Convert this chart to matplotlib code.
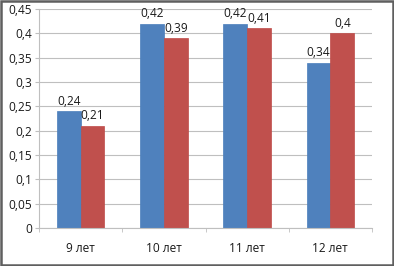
import numpy as np
import matplotlib.pyplot as plt

categories = ["9 лет", "10 лет", "11 лет", "12 лет"]
series_a = [0.24, 0.42, 0.42, 0.34]
series_b = [0.21, 0.39, 0.41, 0.40]
y_ticks = [0, 0.05, 0.1, 0.15, 0.2, 0.25, 0.3, 0.35, 0.4, 0.45]

def fmt(v):
    return ("%g" % v).replace(".", ",")

plt.rcParams["font.family"] = ["Open Sans", "DejaVu Sans"]
FS = 8.6

fig = plt.figure(figsize=(3.94, 2.66), dpi=100)
W, H = 394, 266
ax = fig.add_axes([39 / W, 1 - 228 / H, (372 - 39) / W, (228 - 9) / H])

x = np.arange(len(categories))
w = 1 / 3.5
b1 = ax.bar(x - w / 2, series_a, w, color="#4F81BD", edgecolor="#4A7EBB", linewidth=0.5)
b2 = ax.bar(x + w / 2, series_b, w, color="#C0504D", edgecolor="#BE4B48", linewidth=0.5)

for bars, vals in ((b1, series_a), (b2, series_b)):
    for r, v in zip(bars, vals):
        ax.text(r.get_x() + r.get_width() / 2, v + 0.007, fmt(v),
                ha="center", va="bottom", fontsize=FS, color="#1A1A1A")

ax.set_xlim(-0.5, len(categories) - 0.5)
ax.set_ylim(0, 0.45)
ax.set_yticks(y_ticks)
ax.set_yticklabels([fmt(v) for v in y_ticks], fontsize=FS, color="#1A1A1A")
ax.yaxis.grid(True, color="#BFBFBF", linewidth=0.8)
ax.set_axisbelow(True)
ax.tick_params(axis="y", length=3, color="#BFBFBF", pad=2)

ax.set_xticks(x)
ax.set_xticklabels(categories, fontsize=FS, color="#1A1A1A")
ax.tick_params(axis="x", length=0, pad=10)
ax.set_xticks(np.arange(-0.5, len(categories)), minor=True)
ax.tick_params(axis="x", which="minor", length=3, color="#BFBFBF")

for s in ("top", "right"):
    ax.spines[s].set_visible(False)
ax.spines["left"].set_color("#BFBFBF")
ax.spines["bottom"].set_color("#BFBFBF")

fig.patches.append(plt.Rectangle((0.003, 0.004), 0.994, 0.992, transform=fig.transFigure,
                                 fill=False, edgecolor="#5F5F5F", linewidth=1.8))

fig.savefig("out.png", dpi=100)
